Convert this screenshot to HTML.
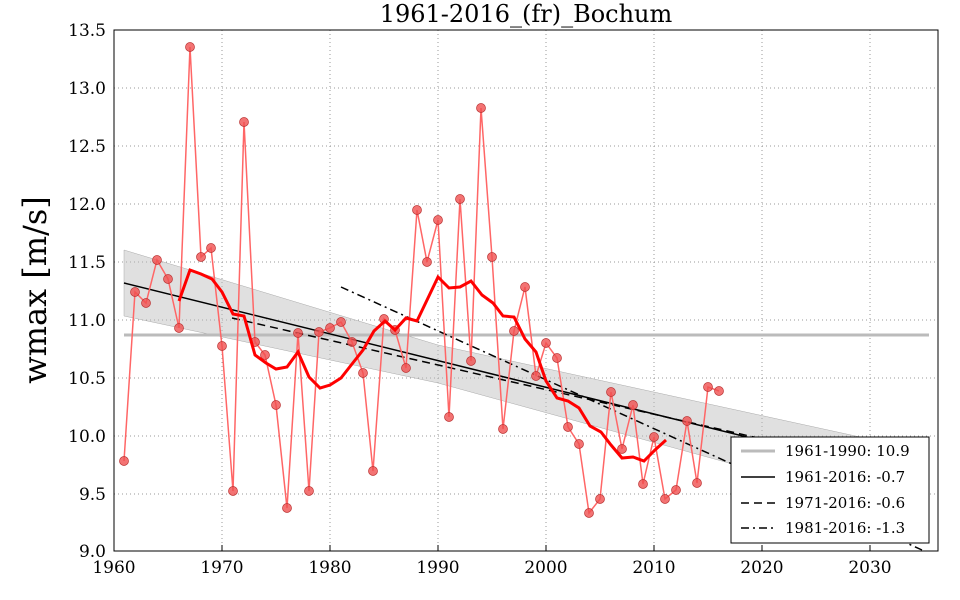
<!DOCTYPE html>
<html><head><meta charset="utf-8"><style>body{margin:0;background:#fff}svg{display:block}text{font-family:"DejaVu Serif","Liberation Serif",serif}</style></head><body>
<svg width="960" height="600" viewBox="0 0 960 600" xmlns="http://www.w3.org/2000/svg">
<rect width="960" height="600" fill="#fff"/>
<g stroke="#999" stroke-dasharray="1,3" stroke-width="1">
<line x1="222" y1="30" x2="222" y2="551"/><line x1="330" y1="30" x2="330" y2="551"/><line x1="438" y1="30" x2="438" y2="551"/><line x1="546" y1="30" x2="546" y2="551"/><line x1="654" y1="30" x2="654" y2="551"/><line x1="762" y1="30" x2="762" y2="551"/><line x1="870" y1="30" x2="870" y2="551"/>
<line x1="114" y1="88" x2="938" y2="88"/><line x1="114" y1="146" x2="938" y2="146"/><line x1="114" y1="204" x2="938" y2="204"/><line x1="114" y1="262" x2="938" y2="262"/><line x1="114" y1="320" x2="938" y2="320"/><line x1="114" y1="378" x2="938" y2="378"/><line x1="114" y1="436" x2="938" y2="436"/><line x1="114" y1="494" x2="938" y2="494"/>
</g>
<polygon points="124,250 438,345 929,452 929,518 438,383 124,316" fill="#bbb" fill-opacity="0.45" stroke="#aaa" stroke-width="0.5"/>
<line x1="124" y1="335" x2="929" y2="335" stroke="#bbb" stroke-width="3"/>
<line x1="124" y1="283" x2="929" y2="482" stroke="#000" stroke-width="1.5"/>
<line x1="232" y1="318" x2="929" y2="477" stroke="#000" stroke-width="1.5" stroke-dasharray="8,5"/>
<line x1="341" y1="287" x2="922" y2="550" stroke="#000" stroke-width="1.5" stroke-dasharray="8,4,2,4"/>
<polyline fill="none" stroke="#f66" stroke-width="1.5" points="124,461 135,292 146,303 157,260 168,279 179,328 190,47 201,257 211,248 222,346 233,491 244,122 255,342 265,355 276,405 287,508 298,333 309,491 319,332 330,328 341,322 352,342 363,373 373,471 384,319 395,330 406,368 417,210 427,262 438,220 449,417 460,199 471,361 481,108 492,257 503,429 514,331 525,287 536,376 546,343 557,358 568,427 579,444 589,513 600,499 611,392 622,449 633,405 643,484 654,437 665,499 676,490 687,421 697,483 708,387 719,391"/>
<g fill="#f05050" fill-opacity="0.8" stroke="#b33" stroke-width="0.7">
<circle cx="124" cy="461" r="4.5"/><circle cx="135" cy="292" r="4.5"/><circle cx="146" cy="303" r="4.5"/><circle cx="157" cy="260" r="4.5"/><circle cx="168" cy="279" r="4.5"/><circle cx="179" cy="328" r="4.5"/><circle cx="190" cy="47" r="4.5"/><circle cx="201" cy="257" r="4.5"/><circle cx="211" cy="248" r="4.5"/><circle cx="222" cy="346" r="4.5"/><circle cx="233" cy="491" r="4.5"/><circle cx="244" cy="122" r="4.5"/><circle cx="255" cy="342" r="4.5"/><circle cx="265" cy="355" r="4.5"/><circle cx="276" cy="405" r="4.5"/><circle cx="287" cy="508" r="4.5"/><circle cx="298" cy="333" r="4.5"/><circle cx="309" cy="491" r="4.5"/><circle cx="319" cy="332" r="4.5"/><circle cx="330" cy="328" r="4.5"/><circle cx="341" cy="322" r="4.5"/><circle cx="352" cy="342" r="4.5"/><circle cx="363" cy="373" r="4.5"/><circle cx="373" cy="471" r="4.5"/><circle cx="384" cy="319" r="4.5"/><circle cx="395" cy="330" r="4.5"/><circle cx="406" cy="368" r="4.5"/><circle cx="417" cy="210" r="4.5"/><circle cx="427" cy="262" r="4.5"/><circle cx="438" cy="220" r="4.5"/><circle cx="449" cy="417" r="4.5"/><circle cx="460" cy="199" r="4.5"/><circle cx="471" cy="361" r="4.5"/><circle cx="481" cy="108" r="4.5"/><circle cx="492" cy="257" r="4.5"/><circle cx="503" cy="429" r="4.5"/><circle cx="514" cy="331" r="4.5"/><circle cx="525" cy="287" r="4.5"/><circle cx="536" cy="376" r="4.5"/><circle cx="546" cy="343" r="4.5"/><circle cx="557" cy="358" r="4.5"/><circle cx="568" cy="427" r="4.5"/><circle cx="579" cy="444" r="4.5"/><circle cx="589" cy="513" r="4.5"/><circle cx="600" cy="499" r="4.5"/><circle cx="611" cy="392" r="4.5"/><circle cx="622" cy="449" r="4.5"/><circle cx="633" cy="405" r="4.5"/><circle cx="643" cy="484" r="4.5"/><circle cx="654" cy="437" r="4.5"/><circle cx="665" cy="499" r="4.5"/><circle cx="676" cy="490" r="4.5"/><circle cx="687" cy="421" r="4.5"/><circle cx="697" cy="483" r="4.5"/><circle cx="708" cy="387" r="4.5"/><circle cx="719" cy="391" r="4.5"/>
</g>
<polyline fill="none" stroke="#f00" stroke-width="3" points="179,301 190,270 201,274 212,279 222,292 233,314 244,316 255,355 266,363 276,369 287,367 298,352 309,377 320,388 330,385 341,378 352,364 363,350 374,331 385,321 395,330 406,318 417,321 428,298 438,277 449,288 460,287 471,281 482,295 493,303 503,316 514,317 525,339 536,352 546,381 557,398 568,401 579,408 590,426 601,432 611,445 622,458 633,457 644,461 655,450 666,440"/>
<rect x="114" y="30" width="824" height="521" fill="none" stroke="#000" stroke-width="1"/>
<g stroke="#000"><line x1="222" y1="551" x2="222" y2="545"/><line x1="330" y1="551" x2="330" y2="545"/><line x1="438" y1="551" x2="438" y2="545"/><line x1="546" y1="551" x2="546" y2="545"/><line x1="654" y1="551" x2="654" y2="545"/><line x1="762" y1="551" x2="762" y2="545"/><line x1="870" y1="551" x2="870" y2="545"/></g>
<rect x="731" y="437" width="198" height="106" fill="#fff" stroke="#000"/>
<line x1="741" y1="451" x2="775" y2="451" stroke="#bbb" stroke-width="3"/>
<line x1="741" y1="477" x2="775" y2="477" stroke="#000" stroke-width="1.5"/>
<line x1="741" y1="503" x2="775" y2="503" stroke="#000" stroke-width="1.5" stroke-dasharray="8,5"/>
<line x1="741" y1="528" x2="775" y2="528" stroke="#000" stroke-width="1.5" stroke-dasharray="8,4,2,4"/>
<g font-size="15" fill="#000"><text x="785" y="456">1961-1990: 10.9</text><text x="785" y="482">1961-2016: -0.7</text><text x="785" y="508">1971-2016: -0.6</text><text x="785" y="533">1981-2016: -1.3</text></g>
<g font-size="17" text-anchor="middle"><text x="114" y="573">1960</text><text x="222" y="573">1970</text><text x="330" y="573">1980</text><text x="438" y="573">1990</text><text x="546" y="573">2000</text><text x="654" y="573">2010</text><text x="762" y="573">2020</text><text x="870" y="573">2030</text></g>
<g font-size="17" text-anchor="end"><text x="106" y="36">13.5</text><text x="106" y="94">13.0</text><text x="106" y="152">12.5</text><text x="106" y="210">12.0</text><text x="106" y="268">11.5</text><text x="106" y="326">11.0</text><text x="106" y="384">10.5</text><text x="106" y="442">10.0</text><text x="106" y="500">9.5</text><text x="106" y="557">9.0</text></g>
<text x="526" y="22" font-size="24" text-anchor="middle">1961-2016_(fr)_Bochum</text>
<text transform="translate(46,290) rotate(-90)" font-size="32" text-anchor="middle">wmax [m/s]</text>
</svg>
</body></html>
